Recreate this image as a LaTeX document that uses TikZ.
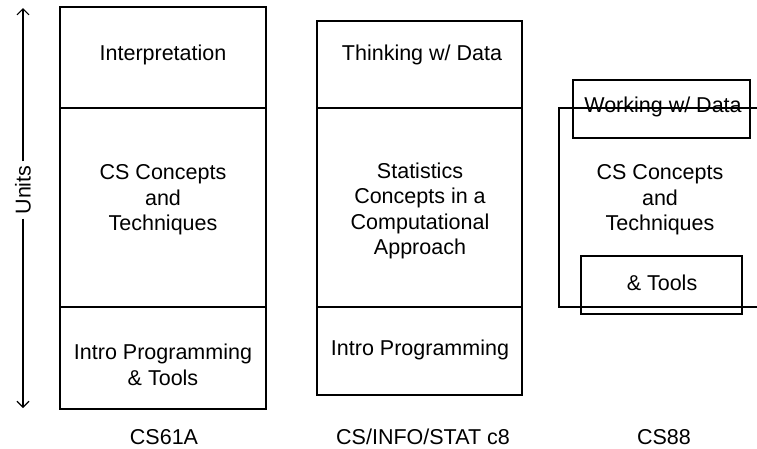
\documentclass[tikz,border=0pt]{standalone}
\usepackage{fontspec}
\setmainfont{Liberation Sans}
\usetikzlibrary{arrows.meta,positioning}

\begin{document}
\begin{tikzpicture}[x=1pt,y=-1pt,line width=1.1pt,every node/.style={align=center,font=\fontsize{21.5}{25.5}\selectfont},box/.style={draw,outer sep=0pt,inner sep=0pt},tip/.style={-{Straight Barb[length=6pt,width=12pt]}}]
      \useasboundingbox (0,0) rectangle (757,448); \clip (0,0) rectangle (757,448);
      % CS61A
      \node[box,minimum width=206pt,minimum height=101pt,anchor=north west] (a1) at (60,7) {}; \node[box,minimum width=206pt,minimum height=199pt,below=0pt of a1] (a2) {}; \node[box,minimum width=206pt,minimum height=102pt,below=0pt of a2] (a3) {};
      \node (a1t) at (163,55) {Interpretation}; \node (a2t) at (163,200) {CS Concepts\\and\\ Techniques}; \node (a3t) at (163,365) {Intro Programming\\\& Tools};
      % CS/INFO/STAT c8
      \node[box,minimum width=205pt,minimum height=87pt,anchor=north west] (b1) at (317,21) {}; \node[box,minimum width=205pt,minimum height=199pt,below=0pt of b1] (b2) {}; \node[box,minimum width=205pt,minimum height=88pt,below=0pt of b2] (b3) {};
      \node (b1t) at (422,55) {Thinking w/ Data}; \node (b2t) at (420,211) {Statistics\\Concepts in a\\Computational\\ Approach}; \node (b3t) at (420,350) {Intro Programming};
      % CS88
      \node[box,minimum width=230pt,minimum height=199pt,anchor=north west] (c2) at (559,108) {}; \node[box,minimum width=177pt,minimum height=58pt,anchor=north west] (c1) at (573,80) {}; \node[box,minimum width=161pt,minimum height=58pt,anchor=north west] (c3) at (581,256) {};
      \node (c1t) at (663,107) {Working w/ Data}; \node (c2t) at (660,200) {CS Concepts\\and\\ Techniques}; \node (c3t) at (662,283) {\& Tools};
      % units axis
      \coordinate (utop) at (23,8); \coordinate (ubot) at (23,408);
      \node[rotate=90,inner sep=0pt,minimum width=56pt] (units) at (23,190) {Units};
      \draw[tip] (units.east) -- (utop); \draw[tip] (units.west) -- (ubot);
      % course names
      \node (la) at (164,437) {CS61A}; \node (lb) at (423,437) {CS/INFO/STAT c8}; \node (lc) at (664,437) {CS88};
    \end{tikzpicture}
\end{document}
